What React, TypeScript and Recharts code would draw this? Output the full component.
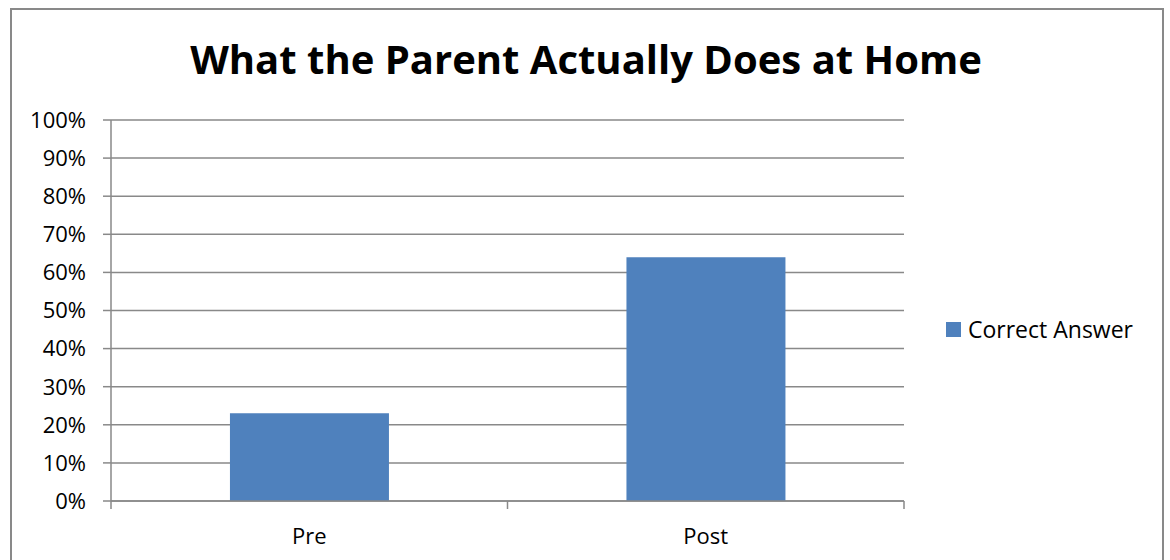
import { BarChart, Bar, XAxis, YAxis, CartesianGrid, Legend } from "recharts";

const categories = ["Pre", "Post"];
const correctAnswer = [23, 64];
const yTicks = [0, 10, 20, 30, 40, 50, 60, 70, 80, 90, 100];

const data = categories.map((name, i) => ({ name, correct: correctAnswer[i] }));

const FONT = "'Open Sans', sans-serif";
const GRID = "#898989";
const BLUE = "#4F81BD";

// category label plus tick marks on the band edges (Excel style)
function CategoryTick(props: any) {
  const { x, y, payload, index, visibleTicksCount } = props;
  const half = payload?.offset ?? 0;
  const last = index === visibleTicksCount - 1;
  return (
    <g>
      <line x1={x - half} x2={x - half} y1={y - 8} y2={y} stroke={GRID} strokeWidth={1.5} />
      {last && <line x1={x + half} x2={x + half} y1={y - 8} y2={y} stroke={GRID} strokeWidth={1.5} />}
      <text x={x} y={y + 35} textAnchor="middle" fontFamily={FONT} fontSize={22} fill="#000">
        {payload.value}
      </text>
    </g>
  );
}

function LegendBox() {
  return (
    <div style={{ display: "flex", alignItems: "center", fontFamily: FONT, fontSize: 23, color: "#000" }}>
      <span style={{ width: 15, height: 15, background: BLUE, marginRight: 7, display: "inline-block" }} />
      Correct Answer
    </div>
  );
}

export default function App() {
  return (
    <div style={{ position: "absolute", left: 0, top: 0, width: 1170, height: 560, background: "#fff", overflow: "hidden" }}>
      <div style={{ position: "absolute", left: 10, top: 8, width: 1150, height: 600, border: `2px solid ${GRID}` }} />
      <svg style={{ position: "absolute", left: 0, top: 0 }} width={1170} height={100}>
        <text x={586} y={74} textAnchor="middle" fontFamily={FONT} fontWeight={700} fontSize={40} fill="#000">
          What the Parent Actually Does at Home
        </text>
      </svg>
      <div style={{ position: "absolute", left: 0, top: 0 }}>
        <BarChart
          width={1170}
          height={560}
          data={data}
          margin={{ top: 120, right: 266, bottom: 0, left: 0 }}
          barCategoryGap="30%"
        >
          <CartesianGrid vertical={false} stroke={GRID} strokeWidth={1.5} />
          <XAxis
            dataKey="name"
            height={59}
            axisLine={{ stroke: GRID, strokeWidth: 1.5 }}
            tickLine={false}
            tickSize={8}
            tickMargin={0}
            tick={<CategoryTick />}
            interval={0}
          />
          <YAxis
            width={111}
            domain={[0, 100]}
            ticks={yTicks}
            interval={0}
            tickFormatter={(v: number) => `${v}%`}
            axisLine={{ stroke: GRID, strokeWidth: 1.5 }}
            tickLine={{ stroke: GRID, strokeWidth: 1.5 }}
            tickSize={8}
            tickMargin={17}
            tick={{ fontFamily: FONT, fontSize: 22, fill: "#000" }}
          />
          <Legend
            layout="vertical"
            align="center"
            verticalAlign="middle"
            content={<LegendBox />}
            wrapperStyle={{ left: 946, top: 313, width: "auto" }}
          />
          <Bar dataKey="correct" name="Correct Answer" fill={BLUE} isAnimationActive={false} />
        </BarChart>
      </div>
    </div>
  );
}
